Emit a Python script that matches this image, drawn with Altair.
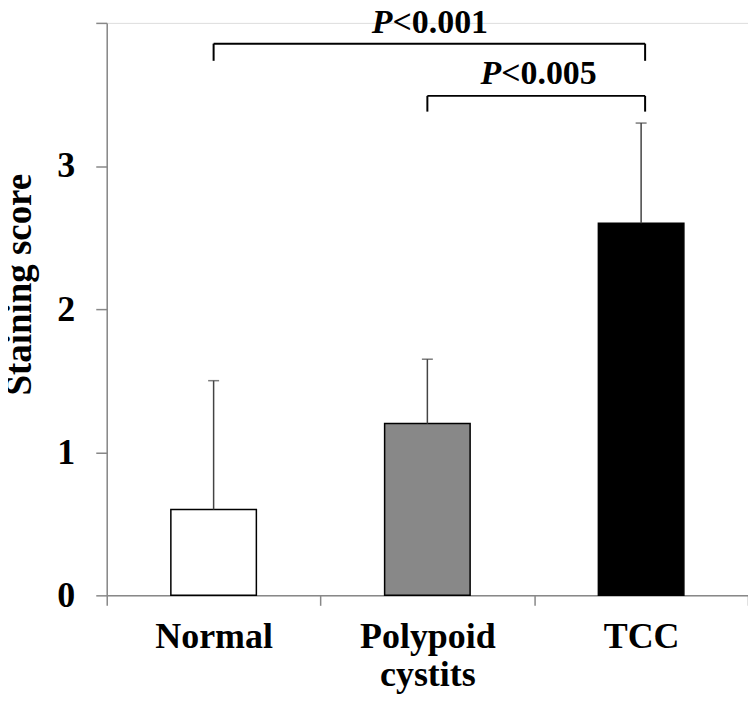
import altair as alt
import pandas as pd

groups = ["Normal", "Polypoid cystits", "TCC"]
means = [0.6, 1.2, 2.6]
upper = [1.5, 1.65, 3.3]
fills = ["#ffffff", "#888888", "#000000"]

bracket_from = ["Normal", "Polypoid cystits"]
bracket_to = ["TCC", "TCC"]
bracket_top = [3.855, 3.49]
bracket_bottom = [3.735, 3.38]

p_text = ["<0.001", "<0.005"]
p_y = [3.93, 3.57]

FONT = "Liberation Serif"

bars_df = pd.DataFrame({"group": groups, "mean": means, "upper": upper, "fill": fills})
br_df = pd.DataFrame({"a": bracket_from, "b": bracket_to, "top": bracket_top, "bot": bracket_bottom})
left_df = pd.DataFrame({"g": bracket_from, "top": bracket_top, "bot": bracket_bottom})
right_df = pd.DataFrame({"g": bracket_to, "top": bracket_top, "bot": bracket_bottom})
p1_df = pd.DataFrame({"g": ["Polypoid cystits"], "t": [p_text[0]], "y": [p_y[0]]})
p2_df = pd.DataFrame({"g": ["Polypoid cystits"], "t": [p_text[1]], "y": [p_y[1]]})

xscale = alt.Scale(domain=groups, paddingInner=0, paddingOuter=0)
yscale = alt.Scale(domain=[0, 4], nice=False)

x_enc = alt.X(
    "group:N", sort=groups, scale=xscale, title=None,
    axis=alt.Axis(
        labelAngle=0, tickBand="extent", labelExpr="split(datum.label, ' ')",
        labelFont=FONT, labelFontSize=36, labelFontWeight="bold", labelColor="black",
        labelPadding=14, labelLineHeight=38, tickSize=10, tickColor="#888888",
        domainColor="#888888", tickWidth=1.5, domainWidth=1.5, labelBaseline="top",
    ),
)
y_enc = alt.Y(
    "mean:Q", scale=yscale,
    axis=alt.Axis(
        title="Staining score", values=[0, 1, 2, 3, 4], grid=False, format="d",
        labelExpr="datum.value == 4 ? '' : datum.label",
        labelFont=FONT, labelFontSize=36, labelFontWeight="bold", labelColor="black",
        labelPadding=21, tickSize=11, tickColor="#888888", domainColor="#888888",
        tickWidth=1.5, domainWidth=1.5,
        titleFont=FONT, titleFontSize=37, titleFontWeight="bold", titleColor="black",
        titleX=-87, titleY=262, titleAngle=270, titleAlign="center", titleBaseline="middle",
    ),
)

bars = alt.Chart(bars_df).mark_bar(
    stroke="black", strokeWidth=1.5, width=alt.RelativeBandSize(0.4)
).encode(x=x_enc, y=y_enc, fill=alt.Fill("fill:N", scale=None))
err = alt.Chart(bars_df).mark_rule(color="#444444", strokeWidth=1.5).encode(
    x=alt.X("group:N", sort=groups, scale=xscale), y="mean:Q", y2="upper:Q"
)
caps = alt.Chart(bars_df).mark_tick(color="#444444", thickness=1.5, size=11).encode(
    x=alt.X("group:N", sort=groups, scale=xscale), y="upper:Q"
)
br_h = alt.Chart(br_df).mark_rule(color="black", strokeWidth=2, x2Offset=4).encode(
    x=alt.X("a:N", sort=groups, scale=xscale), x2="b:N", y="top:Q"
)
br_l = alt.Chart(left_df).mark_rule(color="black", strokeWidth=2).encode(
    x=alt.X("g:N", sort=groups, scale=xscale), y="top:Q", y2="bot:Q"
)
br_r = alt.Chart(right_df).mark_rule(color="black", strokeWidth=2, xOffset=4).encode(
    x=alt.X("g:N", sort=groups, scale=xscale), y="top:Q", y2="bot:Q"
)
p1a = alt.Chart(p1_df).mark_text(
    text="P", font=FONT, fontSize=34, fontWeight="bold", fontStyle="italic",
    align="right", baseline="alphabetic", dx=-35, color="black"
).encode(x=alt.X("g:N", sort=groups, scale=xscale), y="y:Q")
p1b = alt.Chart(p1_df).mark_text(
    font=FONT, fontSize=34, fontWeight="bold", align="left", baseline="alphabetic", dx=-35, color="black"
).encode(x=alt.X("g:N", sort=groups, scale=xscale), y="y:Q", text="t:N")
p2a = alt.Chart(p2_df).mark_text(
    text="P", font=FONT, fontSize=34, fontWeight="bold", fontStyle="italic",
    align="right", baseline="alphabetic", dx=74, color="black"
).encode(x=alt.X("g:N", sort=groups, scale=xscale), y="y:Q")
p2b = alt.Chart(p2_df).mark_text(
    font=FONT, fontSize=34, fontWeight="bold", align="left", baseline="alphabetic", dx=74, color="black"
).encode(x=alt.X("g:N", sort=groups, scale=xscale), y="y:Q", text="t:N")

chart = alt.layer(bars, err, caps, br_h, br_l, br_r, p1a, p1b, p2a, p2b).properties(
    width=643, height=574,
    autosize=alt.AutoSizeParams(type="none"),
    padding={"left": 99, "top": 14, "right": 0, "bottom": 100},
).configure_view(stroke=None).configure(background="white")

chart.save("out.html", embed_options={"renderer": "svg", "actions": False})
